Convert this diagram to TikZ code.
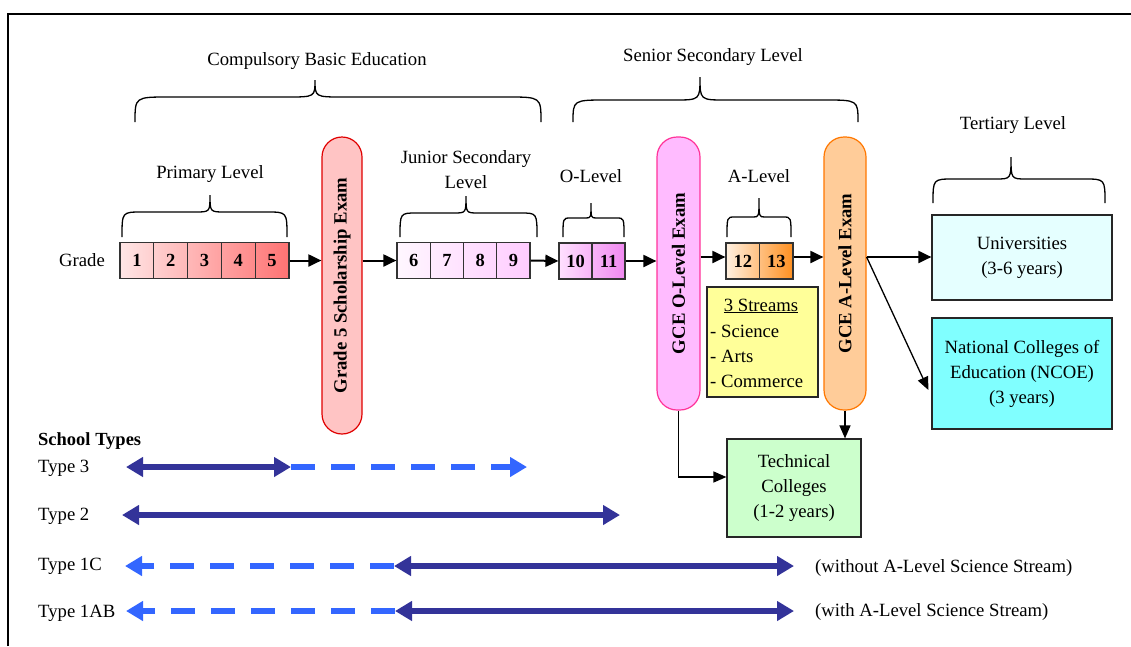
\documentclass[tikz,border=0pt]{standalone}
\usepackage{fontspec}
\setmainfont{Liberation Serif}
\usetikzlibrary{arrows.meta,calc}

% grade cells
\definecolor{pkA}{HTML}{FFE6E6}
\definecolor{pkB}{HTML}{FF7373}
\definecolor{lvA}{HTML}{FFF7FF}
\definecolor{lvB}{HTML}{FFCCFF}
\definecolor{mgA}{HTML}{FFE0FF}
\definecolor{mgB}{HTML}{F088F0}
\definecolor{orA}{HTML}{FFF0E0}
\definecolor{orB}{HTML}{FF9020}
% exams
\definecolor{exRf}{HTML}{FFC4C4}
\definecolor{exRd}{HTML}{E00000}
\definecolor{exOf}{HTML}{FFBBFF}
\definecolor{exOd}{HTML}{FF3399}
\definecolor{exAf}{HTML}{FFCC99}
\definecolor{exAd}{HTML}{FF7700}
% boxes
\definecolor{stY}{HTML}{FFFF99}
\definecolor{uniC}{HTML}{E5FFFF}
\definecolor{ncoeC}{HTML}{80FFFF}
\definecolor{techC}{HTML}{CCFFCC}
% school types
\definecolor{lgSolid}{HTML}{333399}
\definecolor{lgDash}{HTML}{3366FF}

% curly brace: x-left, x-tip, x-right, y-foot, y-bar, y-tip
\newcommand\levelbrace[6]{%
  \pgfmathsetmacro\lbCorner{min(0.12*(#3-#1),34)}%
  \pgfmathsetmacro\lbMid{min(0.09*(#3-#1),28)}%
  \draw[bracepen] (#1,#4) .. controls (#1,#5) .. ({#1+\lbCorner},#5)
    -- ({#2-\lbMid},#5) .. controls (#2,#5) .. (#2,#6)
    .. controls (#2,#5) .. ({#2+\lbMid},#5)
    -- ({#3-\lbCorner},#5) .. controls (#3,#5) .. (#3,#4);
}

\begin{document}
\begin{tikzpicture}[x=1pt, y=-1pt,
  every node/.style={font=\fontsize{18.7}{25}\selectfont, inner sep=0pt},
  lbl/.style={align=center},
  cell/.style={draw=black!80, line width=1.2pt, minimum width=#1,
    minimum height=36pt, font=\fontsize{18.5}{20}\selectfont\bfseries},
  exam/.style={line width=1.2pt, rounded corners=20pt},
  examtxt/.style={rotate=90, font=\fontsize{18.7}{20}\selectfont\bfseries},
  destbox/.style={draw=black!85, line width=1.2pt, align=center},
  flow/.style={line width=2pt, -{Triangle[length=13pt,width=12pt]}},
  flowthin/.style={line width=1.3pt, -{Triangle[length=13pt,width=11pt]}},
  bracepen/.style={line width=1.3pt},
  typesolid/.style={line width=5.5pt, draw=lgSolid,
    {Triangle[length=17pt,width=19pt]}-{Triangle[length=17pt,width=19pt]}},
  typedash/.style={line width=5.5pt, draw=lgDash, dash pattern=on 24pt off 16pt,
    -{Triangle[length=17pt,width=19pt]}},
]
\useasboundingbox (0,0) rectangle (1131,646);

% frame
\draw[line width=2.2pt] (8,646) -- (8,14) -- (1131,14);

% level headings and braces
\node[lbl] (tCBE) at (317,61) {Compulsory Basic Education};
\node[lbl] (tSSL) at (713,57) {Senior Secondary Level};
\node[lbl] (tTL) at (1013,125) {Tertiary Level};
\node[lbl] (tPL) at (210,174) {Primary Level};
\node[lbl] (tJSL) at (466,170) {Junior Secondary\\Level};
\node[lbl] (tOL) at (591,176) {O-Level};
\node[lbl] (tAL) at (759,176) {A-Level};

\levelbrace{135}{315}{541}{122}{97}{80}
\levelbrace{573}{700}{858}{122}{100}{77}
\levelbrace{933}{1011}{1105}{203}{179}{157}
\levelbrace{122}{210}{287}{237}{212}{195}
\levelbrace{400}{466}{537}{237}{213}{196}
\levelbrace{563}{591}{624}{237}{218}{203}
\levelbrace{727}{759}{791}{237}{217}{198}

% grades
\node[lbl] (tGrade) at (82,260) {Grade};
\foreach \i [evaluate=\i as \mixL using {int(20*(\i-1))},
             evaluate=\i as \mixR using {int(20*\i)}] in {1,...,5}
  \node[cell=33.8pt, left color=pkB!\mixL!pkA, right color=pkB!\mixR!pkA]
    (g\i) at ({120+33.8*(\i-0.5)},260.5) {\i};
\foreach \i [evaluate=\i as \mixL using {int(25*(\i-6))},
             evaluate=\i as \mixR using {int(25*(\i-5))}] in {6,...,9}
  \node[cell=33.25pt, left color=lvB!\mixL!lvA, right color=lvB!\mixR!lvA]
    (g\i) at ({397+33.25*(\i-5.5)},260.5) {\i};
\foreach \i [evaluate=\i as \mixL using {int(50*(\i-10))},
             evaluate=\i as \mixR using {int(50*(\i-9))}] in {10,11}
  \node[cell=33pt, left color=mgB!\mixL!mgA, right color=mgB!\mixR!mgA]
    (g\i) at ({559+33*(\i-9.5)},261) {\i};
\foreach \i [evaluate=\i as \mixL using {int(50*(\i-12))},
             evaluate=\i as \mixR using {int(50*(\i-11))}] in {12,13}
  \node[cell=33.5pt, left color=orB!\mixL!orA, right color=orB!\mixR!orA]
    (g\i) at ({726+33.5*(\i-11.5)},261) {\i};

% exams
\node[exam, draw=exRd, fill=exRf, minimum width=40pt, minimum height=297pt]
  (ex5) at (342,285.5) {};
\node[examtxt] (ex5t) at (ex5.center) {Grade 5 Scholarship Exam};
\node[exam, draw=exOd, fill=exOf, minimum width=43pt, minimum height=273pt]
  (exO) at (678.5,273.5) {};
\node[examtxt] (exOt) at (exO.center) {GCE O-Level Exam};
\node[exam, draw=exAd, fill=exAf, minimum width=42pt, minimum height=273pt]
  (exA) at (845,273.5) {};
\node[examtxt] (exAt) at (exA.center) {GCE A-Level Exam};

% A-Level streams
\node[draw=black!85, line width=1.2pt, fill=stY, minimum width=111pt,
  minimum height=110pt] (streams) at (762.5,342) {};
\node (stH) at (761,306) {\underline{3 Streams}};
\node[anchor=west] (stS) at (710,331) {- Science};
\node[anchor=west] (stA) at (710,356) {- Arts};
\node[anchor=west] (stC) at (710,381) {- Commerce};

% destinations
\node[destbox, fill=uniC, minimum width=180pt, minimum height=85pt]
  (univ) at (1022,257.5) {Universities\\(3-6 years)};
\node[destbox, fill=ncoeC, minimum width=180pt, minimum height=111pt]
  (ncoe) at (1022,373.5) {National Colleges of\\Education (NCOE)\\(3 years)};
\node[destbox, fill=techC, minimum width=134pt, minimum height=98pt]
  (tech) at (794,488) {Technical\\Colleges\\(1-2 years)};

% progression arrows
\coordinate (rowA) at (0,257);
\coordinate (ncoeIn) at (0,390);
\coordinate (techIn) at (0,477);
\draw[flow] (g5.east) -- (g5.east -| ex5.west);
\draw[flow] (g5.east -| ex5.east) -- (g6.west);
\draw[flow] (g9.east) -- (g10.west);
\draw[flow] (g11.east) -- (g11.east -| exO.west);
\draw[flow] (exO.east |- rowA) -- (g12.west |- rowA);
\draw[flow] (g13.east |- rowA) -- (exA.west |- rowA);
\draw[flow] (exA.east |- rowA) -- (univ.west |- rowA);
\draw[flowthin] (exA.east |- rowA) -- ([xshift=-3pt]ncoe.west |- ncoeIn);
\draw[flowthin] (exO.south) -- (exO.south |- techIn) -- (tech.west |- techIn);
\draw[flowthin] (exA.south) -- (tech.north -| exA.south);

% school types
\node[anchor=west, font=\fontsize{18.5}{20}\selectfont\bfseries] (stypes) at (38,441) {School Types};
\node[anchor=west] (ty3) at (38,468) {Type 3};
\node[anchor=west] (ty2) at (38,516) {Type 2};
\node[anchor=west] (ty1c) at (38,566) {Type 1C};
\node[anchor=west] (ty1ab) at (38,613) {Type 1AB};

\coordinate (t3l) at (126,467);
\coordinate (t3m) at (291,467);
\coordinate (t3r) at (527,467);
\coordinate (t2l) at (122,515);
\coordinate (t2r) at (620,515);
\coordinate (t1cl) at (125,566);
\coordinate (t1cm) at (394,566);
\coordinate (t1cr) at (794,566);
\coordinate (t1abl) at (126,611);
\coordinate (t1abm) at (395,611);
\coordinate (t1abr) at (794,611);

\draw[typedash] (t3m) -- (t3r);
\draw[typesolid] (t3l) -- (t3m);
\draw[typesolid] (t2l) -- (t2r);
\draw[typedash] (t1cm) -- (t1cl);
\draw[typesolid] (t1cm) -- (t1cr);
\draw[typedash] (t1abm) -- (t1abl);
\draw[typesolid] (t1abm) -- (t1abr);

\node[anchor=west] (n1c) at (815,568) {(without A-Level Science Stream)};
\node[anchor=west] (n1ab) at (815,612) {(with A-Level Science Stream)};
\end{tikzpicture}
\end{document}
